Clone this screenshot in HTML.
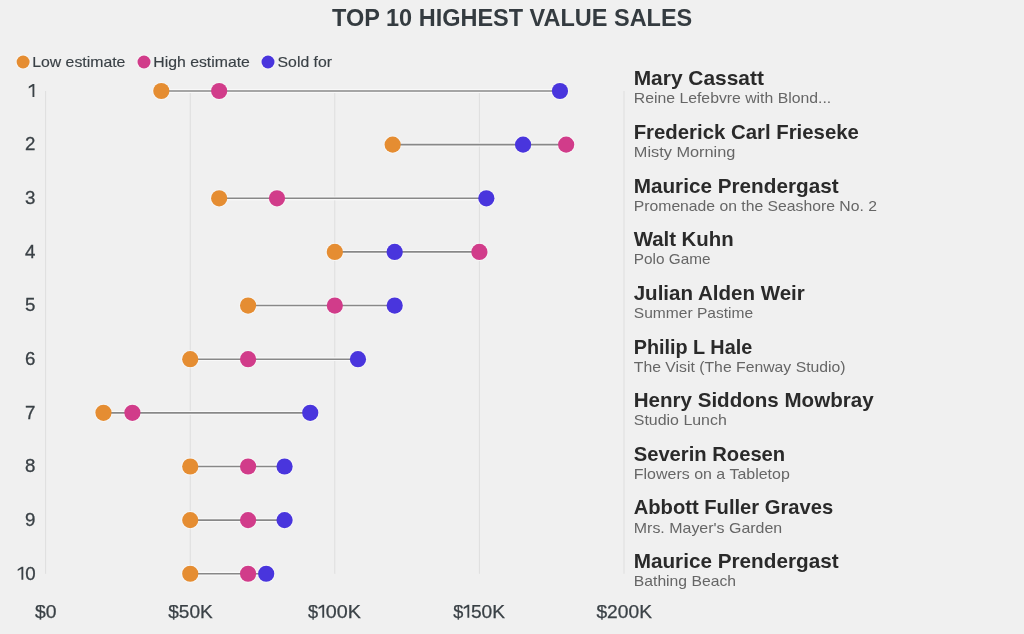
<!DOCTYPE html>
<html><head><meta charset="utf-8"><title>Top 10 highest value sales</title>
<style>
html,body{margin:0;padding:0;background:#f0f0f0;}
body{width:1024px;height:634px;overflow:hidden;font-family:"Liberation Sans",sans-serif;}
svg{display:block;will-change:transform;font-family:"Liberation Sans",sans-serif;}
.t{font-weight:bold;font-size:24.7px;fill:#343b40;}
.n{font-weight:bold;font-size:20.5px;fill:#2a2a2a;}
.s{font-size:14.8px;fill:#666;}
.a{font-size:18.1px;fill:#3a4146;stroke:#3a4146;stroke-width:.25px;}
.r{font-size:18.7px;fill:#3a4146;stroke:#3a4146;stroke-width:.3px;}
.l{font-size:14.95px;fill:#3a4146;stroke:#3a4146;stroke-width:.15px;}
.g{stroke:#dedede;stroke-width:1;}
.c{stroke:#888;stroke-width:1.6;}
.h{stroke:#f9f9f9;stroke-width:3.8;}
.o{fill:#f7f7f7;}
</style></head><body>
<svg width="1024" height="634" viewBox="0 0 1024 634">
<rect width="1024" height="634" fill="#f0f0f0"/>
<text class="t" x="332.1" y="26" textLength="360.2" lengthAdjust="spacingAndGlyphs">TOP 10 HIGHEST VALUE SALES</text>
<circle class="o" cx="23.1" cy="62" r="7.4"/>
<circle cx="23.1" cy="62" r="6.5" fill="#e58d32"/>
<text class="l" x="32.2" y="67" textLength="93.2" lengthAdjust="spacingAndGlyphs">Low estimate</text>
<circle class="o" cx="144" cy="62" r="7.4"/>
<circle cx="144" cy="62" r="6.5" fill="#d13c8a"/>
<text class="l" x="153.3" y="67" textLength="96.6" lengthAdjust="spacingAndGlyphs">High estimate</text>
<circle class="o" cx="268" cy="62" r="7.4"/>
<circle cx="268" cy="62" r="6.5" fill="#4935dd"/>
<text class="l" x="277.6" y="67" textLength="54.4" lengthAdjust="spacingAndGlyphs">Sold for</text>
<line class="g" x1="45.65" y1="91.0" x2="45.65" y2="573.8"/>
<line class="g" x1="190.24" y1="91.0" x2="190.24" y2="573.8"/>
<line class="g" x1="334.82" y1="91.0" x2="334.82" y2="573.8"/>
<line class="g" x1="479.41" y1="91.0" x2="479.41" y2="573.8"/>
<line class="g" x1="624.00" y1="91.0" x2="624.00" y2="573.8"/>
<text class="a" x="35.10" y="618" textLength="21.5" lengthAdjust="spacingAndGlyphs">$0</text>
<text class="a" x="168.19" y="618" textLength="44.5" lengthAdjust="spacingAndGlyphs">$50K</text>
<text class="a" x="308.12" y="618">$</text>
<path fill="#3a4146" d="M324.18,617.80L324.18,604.75L322.57,604.75L318.57,607.30L318.57,609.20L322.32,606.95L322.32,617.80Z"/>
<text class="a" x="325.88" y="618" textLength="35.10" lengthAdjust="spacingAndGlyphs">00K</text>
<text class="a" x="453.21" y="618">$</text>
<path fill="#3a4146" d="M469.26,617.80L469.26,604.75L467.66,604.75L463.66,607.30L463.66,609.20L467.41,606.95L467.41,617.80Z"/>
<text class="a" x="470.96" y="618" textLength="34.10" lengthAdjust="spacingAndGlyphs">50K</text>
<text class="a" x="596.45" y="618" textLength="55.5" lengthAdjust="spacingAndGlyphs">$200K</text>
<path fill="#3a4146" d="M34.35,97.10L34.35,83.95L32.75,83.95L28.75,86.50L28.75,88.40L32.50,86.15L32.50,97.10Z"/>
<circle class="o" cx="161.32" cy="91.00" r="9.05"/>
<circle class="o" cx="219.16" cy="91.00" r="9.05"/>
<circle class="o" cx="559.95" cy="91.00" r="9.05"/>
<line class="h" x1="161.32" y1="91.00" x2="559.95" y2="91.00"/>
<line class="c" x1="161.32" y1="91.00" x2="559.95" y2="91.00"/>
<circle cx="161.32" cy="91.00" r="8.1" fill="#e58d32"/>
<circle cx="219.16" cy="91.00" r="8.1" fill="#d13c8a"/>
<circle cx="559.95" cy="91.00" r="8.1" fill="#4935dd"/>
<text class="n" x="633.7" y="85" textLength="130.2" lengthAdjust="spacingAndGlyphs">Mary Cassatt</text>
<text class="s" x="633.8" y="103" textLength="197.4" lengthAdjust="spacingAndGlyphs">Reine Lefebvre with Blond...</text>
<text class="r" x="35.5" y="150" text-anchor="end">2</text>
<circle class="o" cx="392.66" cy="144.64" r="9.05"/>
<circle class="o" cx="566.16" cy="144.64" r="9.05"/>
<circle class="o" cx="523.08" cy="144.64" r="9.05"/>
<line class="h" x1="392.66" y1="144.64" x2="566.16" y2="144.64"/>
<line class="c" x1="392.66" y1="144.64" x2="566.16" y2="144.64"/>
<circle cx="392.66" cy="144.64" r="8.1" fill="#e58d32"/>
<circle cx="566.16" cy="144.64" r="8.1" fill="#d13c8a"/>
<circle cx="523.08" cy="144.64" r="8.1" fill="#4935dd"/>
<text class="n" x="633.7" y="139" textLength="225.2" lengthAdjust="spacingAndGlyphs">Frederick Carl Frieseke</text>
<text class="s" x="633.8" y="157" textLength="101.6" lengthAdjust="spacingAndGlyphs">Misty Morning</text>
<text class="r" x="35.5" y="204" text-anchor="end">3</text>
<circle class="o" cx="219.16" cy="198.28" r="9.05"/>
<circle class="o" cx="276.99" cy="198.28" r="9.05"/>
<circle class="o" cx="486.35" cy="198.28" r="9.05"/>
<line class="h" x1="219.16" y1="198.28" x2="486.35" y2="198.28"/>
<line class="c" x1="219.16" y1="198.28" x2="486.35" y2="198.28"/>
<circle cx="219.16" cy="198.28" r="8.1" fill="#e58d32"/>
<circle cx="276.99" cy="198.28" r="8.1" fill="#d13c8a"/>
<circle cx="486.35" cy="198.28" r="8.1" fill="#4935dd"/>
<text class="n" x="633.7" y="193" textLength="204.9" lengthAdjust="spacingAndGlyphs">Maurice Prendergast</text>
<text class="s" x="633.8" y="211" textLength="243.1" lengthAdjust="spacingAndGlyphs">Promenade on the Seashore No. 2</text>
<text class="r" x="35.5" y="258" text-anchor="end">4</text>
<circle class="o" cx="334.82" cy="251.92" r="9.05"/>
<circle class="o" cx="479.41" cy="251.92" r="9.05"/>
<circle class="o" cx="394.68" cy="251.92" r="9.05"/>
<line class="h" x1="334.82" y1="251.92" x2="479.41" y2="251.92"/>
<line class="c" x1="334.82" y1="251.92" x2="479.41" y2="251.92"/>
<circle cx="334.82" cy="251.92" r="8.1" fill="#e58d32"/>
<circle cx="479.41" cy="251.92" r="8.1" fill="#d13c8a"/>
<circle cx="394.68" cy="251.92" r="8.1" fill="#4935dd"/>
<text class="n" x="633.7" y="246" textLength="100.0" lengthAdjust="spacingAndGlyphs">Walt Kuhn</text>
<text class="s" x="633.8" y="264" textLength="76.8" lengthAdjust="spacingAndGlyphs">Polo Game</text>
<text class="r" x="35.5" y="311" text-anchor="end">5</text>
<circle class="o" cx="248.07" cy="305.56" r="9.05"/>
<circle class="o" cx="334.82" cy="305.56" r="9.05"/>
<circle class="o" cx="394.68" cy="305.56" r="9.05"/>
<line class="h" x1="248.07" y1="305.56" x2="394.68" y2="305.56"/>
<line class="c" x1="248.07" y1="305.56" x2="394.68" y2="305.56"/>
<circle cx="248.07" cy="305.56" r="8.1" fill="#e58d32"/>
<circle cx="334.82" cy="305.56" r="8.1" fill="#d13c8a"/>
<circle cx="394.68" cy="305.56" r="8.1" fill="#4935dd"/>
<text class="n" x="633.7" y="300" textLength="171.1" lengthAdjust="spacingAndGlyphs">Julian Alden Weir</text>
<text class="s" x="633.8" y="318" textLength="119.4" lengthAdjust="spacingAndGlyphs">Summer Pastime</text>
<text class="r" x="35.5" y="365" text-anchor="end">6</text>
<circle class="o" cx="190.24" cy="359.20" r="9.05"/>
<circle class="o" cx="248.07" cy="359.20" r="9.05"/>
<circle class="o" cx="357.96" cy="359.20" r="9.05"/>
<line class="h" x1="190.24" y1="359.20" x2="357.96" y2="359.20"/>
<line class="c" x1="190.24" y1="359.20" x2="357.96" y2="359.20"/>
<circle cx="190.24" cy="359.20" r="8.1" fill="#e58d32"/>
<circle cx="248.07" cy="359.20" r="8.1" fill="#d13c8a"/>
<circle cx="357.96" cy="359.20" r="8.1" fill="#4935dd"/>
<text class="n" x="633.7" y="354" textLength="118.5" lengthAdjust="spacingAndGlyphs">Philip L Hale</text>
<text class="s" x="633.8" y="372" textLength="211.8" lengthAdjust="spacingAndGlyphs">The Visit (The Fenway Studio)</text>
<text class="r" x="35.5" y="419" text-anchor="end">7</text>
<circle class="o" cx="103.48" cy="412.84" r="9.05"/>
<circle class="o" cx="132.40" cy="412.84" r="9.05"/>
<circle class="o" cx="310.25" cy="412.84" r="9.05"/>
<line class="h" x1="103.48" y1="412.84" x2="310.25" y2="412.84"/>
<line class="c" x1="103.48" y1="412.84" x2="310.25" y2="412.84"/>
<circle cx="103.48" cy="412.84" r="8.1" fill="#e58d32"/>
<circle cx="132.40" cy="412.84" r="8.1" fill="#d13c8a"/>
<circle cx="310.25" cy="412.84" r="8.1" fill="#4935dd"/>
<text class="n" x="633.7" y="407" textLength="239.9" lengthAdjust="spacingAndGlyphs">Henry Siddons Mowbray</text>
<text class="s" x="633.8" y="425" textLength="93.0" lengthAdjust="spacingAndGlyphs">Studio Lunch</text>
<text class="r" x="35.5" y="472" text-anchor="end">8</text>
<circle class="o" cx="190.24" cy="466.48" r="9.05"/>
<circle class="o" cx="248.07" cy="466.48" r="9.05"/>
<circle class="o" cx="284.57" cy="466.48" r="9.05"/>
<line class="h" x1="190.24" y1="466.48" x2="284.57" y2="466.48"/>
<line class="c" x1="190.24" y1="466.48" x2="284.57" y2="466.48"/>
<circle cx="190.24" cy="466.48" r="8.1" fill="#e58d32"/>
<circle cx="248.07" cy="466.48" r="8.1" fill="#d13c8a"/>
<circle cx="284.57" cy="466.48" r="8.1" fill="#4935dd"/>
<text class="n" x="633.7" y="461" textLength="151.5" lengthAdjust="spacingAndGlyphs">Severin Roesen</text>
<text class="s" x="633.8" y="479" textLength="156.0" lengthAdjust="spacingAndGlyphs">Flowers on a Tabletop</text>
<text class="r" x="35.5" y="526" text-anchor="end">9</text>
<circle class="o" cx="190.24" cy="520.12" r="9.05"/>
<circle class="o" cx="248.07" cy="520.12" r="9.05"/>
<circle class="o" cx="284.57" cy="520.12" r="9.05"/>
<line class="h" x1="190.24" y1="520.12" x2="284.57" y2="520.12"/>
<line class="c" x1="190.24" y1="520.12" x2="284.57" y2="520.12"/>
<circle cx="190.24" cy="520.12" r="8.1" fill="#e58d32"/>
<circle cx="248.07" cy="520.12" r="8.1" fill="#d13c8a"/>
<circle cx="284.57" cy="520.12" r="8.1" fill="#4935dd"/>
<text class="n" x="633.7" y="514" textLength="199.5" lengthAdjust="spacingAndGlyphs">Abbott Fuller Graves</text>
<text class="s" x="633.8" y="533" textLength="148.4" lengthAdjust="spacingAndGlyphs">Mrs. Mayer's Garden</text>
<path fill="#3a4146" d="M23.30,579.80L23.30,566.65L21.70,566.65L17.70,569.20L17.70,571.10L21.45,568.85L21.45,579.80Z"/>
<text class="r" x="35.7" y="580" text-anchor="end">0</text>
<circle class="o" cx="190.24" cy="573.76" r="9.05"/>
<circle class="o" cx="248.07" cy="573.76" r="9.05"/>
<circle class="o" cx="266.20" cy="573.76" r="9.05"/>
<line class="h" x1="190.24" y1="573.76" x2="266.20" y2="573.76"/>
<line class="c" x1="190.24" y1="573.76" x2="266.20" y2="573.76"/>
<circle cx="190.24" cy="573.76" r="8.1" fill="#e58d32"/>
<circle cx="248.07" cy="573.76" r="8.1" fill="#d13c8a"/>
<circle cx="266.20" cy="573.76" r="8.1" fill="#4935dd"/>
<text class="n" x="633.7" y="568" textLength="204.9" lengthAdjust="spacingAndGlyphs">Maurice Prendergast</text>
<text class="s" x="633.8" y="586" textLength="102.2" lengthAdjust="spacingAndGlyphs">Bathing Beach</text>
</svg></body></html>
